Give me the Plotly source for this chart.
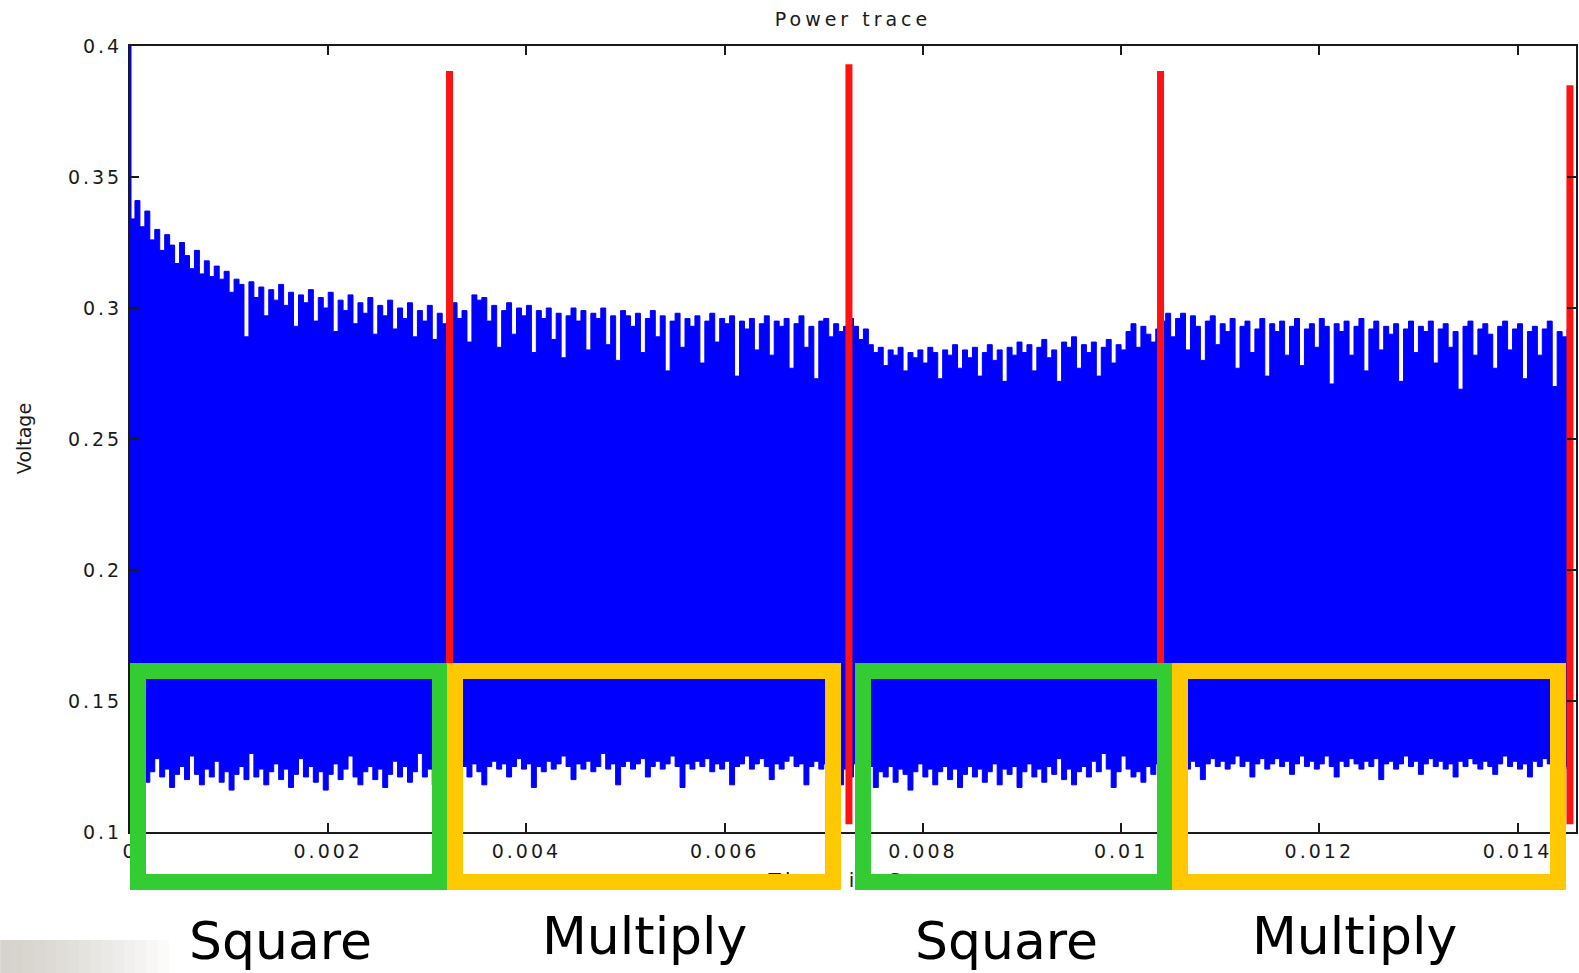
import numpy as np
import plotly.graph_objects as go

# ---------------- data ----------------
SAMPLE_DT = 0.00005  # seconds between envelope samples

# upper envelope of the power trace (V)
upper_v = [
    0.334, 0.341, 0.331, 0.337, 0.326, 0.330, 0.322, 0.328, 0.324, 0.317,
    0.325, 0.320, 0.315, 0.322, 0.313, 0.318, 0.312, 0.316, 0.311, 0.314,
    0.306, 0.311, 0.309, 0.289, 0.310, 0.304, 0.308, 0.297, 0.307, 0.303,
    0.309, 0.301, 0.306, 0.293, 0.305, 0.302, 0.307, 0.295, 0.304, 0.300,
    0.306, 0.291, 0.303, 0.299, 0.305, 0.294, 0.302, 0.298, 0.304, 0.290,
    0.301, 0.297, 0.303, 0.292, 0.300, 0.296, 0.302, 0.289, 0.299, 0.295,
    0.301, 0.288, 0.298, 0.294, 0.300, 0.302, 0.296, 0.299, 0.287, 0.305,
    0.303, 0.304, 0.295, 0.301, 0.285, 0.299, 0.302, 0.290, 0.300, 0.297,
    0.301, 0.283, 0.299, 0.296, 0.300, 0.288, 0.298, 0.281, 0.297, 0.300,
    0.295, 0.299, 0.284, 0.298, 0.296, 0.300, 0.286, 0.297, 0.280, 0.299,
    0.297, 0.293, 0.298, 0.283, 0.296, 0.299, 0.289, 0.297, 0.276, 0.295,
    0.298, 0.285, 0.296, 0.293, 0.297, 0.279, 0.295, 0.298, 0.287, 0.296,
    0.294, 0.297, 0.274, 0.295, 0.292, 0.296, 0.284, 0.294, 0.297, 0.282,
    0.295, 0.293, 0.296, 0.277, 0.294, 0.297, 0.285, 0.293, 0.273, 0.295,
    0.296, 0.289, 0.294, 0.291, 0.293, 0.296, 0.293, 0.288, 0.292, 0.286,
    0.283, 0.285, 0.278, 0.284, 0.282, 0.285, 0.276, 0.283, 0.281, 0.284,
    0.279, 0.285, 0.283, 0.273, 0.284, 0.282, 0.286, 0.277, 0.284, 0.281,
    0.285, 0.274, 0.283, 0.286, 0.280, 0.284, 0.272, 0.285, 0.282, 0.287,
    0.283, 0.286, 0.276, 0.285, 0.288, 0.281, 0.284, 0.272, 0.287, 0.285,
    0.289, 0.277, 0.286, 0.283, 0.287, 0.274, 0.285, 0.288, 0.279, 0.286,
    0.284, 0.291, 0.294, 0.285, 0.293, 0.290, 0.287, 0.292, 0.295, 0.298,
    0.289, 0.296, 0.298, 0.284, 0.297, 0.293, 0.280, 0.295, 0.297, 0.286,
    0.294, 0.291, 0.296, 0.277, 0.293, 0.295, 0.283, 0.292, 0.296, 0.274,
    0.294, 0.291, 0.295, 0.282, 0.293, 0.296, 0.278, 0.292, 0.294, 0.285,
    0.296, 0.293, 0.271, 0.294, 0.291, 0.295, 0.282, 0.293, 0.296, 0.276,
    0.292, 0.295, 0.284, 0.293, 0.290, 0.294, 0.272, 0.292, 0.295, 0.283,
    0.293, 0.291, 0.295, 0.279, 0.292, 0.294, 0.285, 0.291, 0.269, 0.293,
    0.295, 0.282, 0.292, 0.294, 0.290, 0.277, 0.293, 0.295, 0.284, 0.292,
    0.294, 0.273, 0.291, 0.293, 0.282, 0.292, 0.295, 0.270, 0.291, 0.289,
    0.292, 0.290,
]

# lower envelope of the power trace (V)
lower_v = [
    0.124, 0.121, 0.126, 0.119, 0.123, 0.128, 0.121, 0.124, 0.117, 0.122,
    0.125, 0.120, 0.129, 0.122, 0.118, 0.124, 0.121, 0.127, 0.119, 0.123,
    0.116, 0.122, 0.125, 0.120, 0.130, 0.121, 0.124, 0.118, 0.123, 0.126,
    0.120, 0.124, 0.117, 0.122, 0.128, 0.121, 0.125, 0.119, 0.123, 0.116,
    0.122, 0.126, 0.120, 0.124, 0.129, 0.121, 0.118, 0.123, 0.125, 0.120,
    0.124, 0.117, 0.122, 0.127, 0.121, 0.125, 0.119, 0.123, 0.130, 0.121,
    0.124, 0.118, 0.122, 0.126, 0.120, 0.124, 0.127, 0.125, 0.121, 0.126,
    0.123, 0.118, 0.125, 0.127, 0.124, 0.126, 0.121, 0.125, 0.128, 0.124,
    0.126, 0.117, 0.125, 0.123, 0.127, 0.124, 0.126, 0.129, 0.125, 0.120,
    0.126, 0.124, 0.127, 0.123, 0.125, 0.130, 0.124, 0.126, 0.118, 0.125,
    0.127, 0.124, 0.126, 0.128, 0.121, 0.125, 0.127, 0.124, 0.126, 0.129,
    0.125, 0.117, 0.126, 0.124, 0.127, 0.125, 0.128, 0.123, 0.126, 0.124,
    0.127, 0.118, 0.125, 0.126, 0.129, 0.124, 0.126, 0.128, 0.125, 0.120,
    0.126, 0.124, 0.127, 0.129, 0.125, 0.126, 0.118, 0.125, 0.127, 0.124,
    0.126, 0.125, 0.120, 0.118, 0.124, 0.121, 0.126, 0.119, 0.123, 0.125,
    0.117, 0.123, 0.121, 0.125, 0.119, 0.124, 0.122, 0.116, 0.123, 0.126,
    0.121, 0.124, 0.118, 0.123, 0.125, 0.120, 0.124, 0.117, 0.122, 0.125,
    0.121, 0.124, 0.119, 0.123, 0.126, 0.118, 0.124, 0.122, 0.125, 0.117,
    0.123, 0.126, 0.121, 0.124, 0.119, 0.125, 0.122, 0.128, 0.120, 0.124,
    0.118, 0.123, 0.125, 0.121, 0.127, 0.123, 0.130, 0.124, 0.117, 0.123,
    0.129, 0.124, 0.121, 0.123, 0.119, 0.125, 0.122, 0.126, 0.124, 0.127,
    0.125, 0.128, 0.126, 0.124, 0.127, 0.125, 0.120, 0.126, 0.128, 0.125,
    0.127, 0.124, 0.126, 0.129, 0.125, 0.127, 0.121, 0.126, 0.128, 0.124,
    0.126, 0.128, 0.125, 0.127, 0.122, 0.126, 0.129, 0.125, 0.127, 0.124,
    0.126, 0.129, 0.125, 0.121, 0.127, 0.125, 0.128, 0.126, 0.124, 0.127,
    0.125, 0.128, 0.120, 0.126, 0.127, 0.124, 0.126, 0.129, 0.125, 0.127,
    0.122, 0.126, 0.128, 0.125, 0.127, 0.124, 0.126, 0.121, 0.127, 0.125,
    0.128, 0.126, 0.124, 0.127, 0.125, 0.122, 0.126, 0.129, 0.125, 0.127,
    0.124, 0.126, 0.121, 0.127, 0.125, 0.128, 0.126, 0.123, 0.127, 0.125,
    0.124, 0.126,
]

# first sample spike (blue)
start_spike_x = [0.0]
start_spike_top = [0.4]
start_spike_bottom = [0.125]

# red spikes marking operation boundaries
red_x = [0.003224, 0.007254, 0.010398, 0.014529]
red_top = [0.3905, 0.3930, 0.3905, 0.3850]
red_bottom = [0.1030, 0.1030, 0.1030, 0.1030]

x_ticks = [0.0, 0.002, 0.004, 0.006, 0.008, 0.010, 0.012, 0.014]
x_tick_labels = ["0", "0.002", "0.004", "0.006", "0.008", "0.01", "0.012", "0.014"]
y_ticks = [0.1, 0.15, 0.2, 0.25, 0.3, 0.35, 0.4]
y_tick_labels = ["0.1", "0.15", "0.2", "0.25", "0.3", "0.35", "0.4"]

segment_labels = ["Square", "Multiply", "Square", "Multiply"]

# ---------------- layout constants (pixels) ----------------
W, H = 1579, 973
PL, PR, PT, PB = 130, 1578, 46, 832

def paper_x(px):
    return (px - PL) / (PR - PL)

def paper_y(py):
    return (PB - py) / (PB - PT)

BLUE = "#0000FF"
RED = "#FF1212"
GREEN = "#33CC33"
YELLOW = "#FFC800"
AXIS = "#1a1a1a"

t = np.arange(len(upper_v)) * SAMPLE_DT

fig = go.Figure()
fig.add_trace(go.Scatter(
    x=t, y=lower_v, mode="lines",
    line=dict(color=BLUE, width=1, shape="hv"),
    hoverinfo="skip", showlegend=False))
fig.add_trace(go.Scatter(
    x=t, y=upper_v, mode="lines",
    line=dict(color=BLUE, width=1, shape="hv"),
    fill="tonexty", fillcolor=BLUE,
    hoverinfo="skip", showlegend=False))

sx, sy = [], []
for x0, yb, yt in zip(start_spike_x, start_spike_bottom, start_spike_top):
    sx += [x0, x0, None]
    sy += [yb, yt, None]
fig.add_trace(go.Scatter(x=sx, y=sy, mode="lines",
                         line=dict(color=BLUE, width=3),
                         hoverinfo="skip", showlegend=False))

rx, ry = [], []
for x0, yb, yt in zip(red_x, red_bottom, red_top):
    rx += [x0, x0, None]
    ry += [yb, yt, None]
fig.add_trace(go.Scatter(x=rx, y=ry, mode="lines",
                         line=dict(color=RED, width=7),
                         hoverinfo="skip", showlegend=False))

annotations = []
# x-axis title (drawn first so that the boxes cover it as in the original)
annotations.append(dict(
    text="Time in Sec", xref="paper", yref="paper",
    x=0.5, y=paper_y(880), xanchor="center", yanchor="middle",
    showarrow=False, font=dict(family="DejaVu Sans", size=20, color=AXIS)))
annotations.append(dict(
    text="Voltage", xref="paper", yref="paper",
    x=paper_x(24), y=0.5, xanchor="center", yanchor="middle",
    textangle=-90, showarrow=False,
    font=dict(family="DejaVu Sans", size=19, color=AXIS)))

BOX_TOP, BOX_BOTTOM, BW = 663, 890, 16
boxes = [(130, 448, GREEN), (448, 842, YELLOW), (856, 1174, GREEN), (1174, 1568, YELLOW)]
for l, r, c in boxes:
    annotations.append(dict(
        text=" ", xref="paper", yref="paper",
        x=paper_x((l + r) / 2), y=paper_y((BOX_TOP + BOX_BOTTOM) / 2),
        xanchor="center", yanchor="middle", showarrow=False,
        width=(r - l) - 2 * BW, height=(BOX_BOTTOM - BOX_TOP) - 2 * BW,
        bordercolor=c, borderwidth=BW, borderpad=0,
        font=dict(size=1)))

label_pos = [(281, 941), (645, 936), (1008, 941), (1356, 936)]
for txt, (px, py) in zip(segment_labels, label_pos):
    annotations.append(dict(
        text=txt, xref="paper", yref="paper",
        x=paper_x(px), y=paper_y(py), xanchor="center", yanchor="middle",
        showarrow=False, font=dict(family="DejaVu Sans", size=52, color="black")))

# grey fade in the bottom-left corner of the slide
shapes = []
n_strips = 16
for i in range(n_strips):
    f = (i / (n_strips - 1)) ** 1.3
    col = "rgb(%d,%d,%d)" % (214 + (255 - 214) * f, 211 + (255 - 211) * f, 204 + (255 - 204) * f)
    x0 = i * 180 / n_strips
    x1 = (i + 1) * 180 / n_strips + 1
    shapes.append(dict(type="rect", xref="paper", yref="paper",
                       x0=paper_x(x0), x1=paper_x(x1), y0=paper_y(973), y1=paper_y(940),
                       fillcolor=col, line=dict(width=0), layer="below"))

axis_common = dict(
    showline=True, linecolor=AXIS, linewidth=2, mirror="ticks",
    ticks="inside", ticklen=9, tickwidth=1.5, tickcolor=AXIS,
    showgrid=False, zeroline=False,
    tickfont=dict(family="DejaVu Sans", size=19, color=AXIS),
)

fig.update_layout(
    width=W, height=H, autosize=False,
    margin=dict(l=PL, r=W - PR, t=PT, b=H - PB, pad=0),
    paper_bgcolor="white", plot_bgcolor="white",
    showlegend=False,
    title=dict(text="Power trace", x=0.5, xref="paper", xanchor="center",
               y=1 - 19 / H, yref="container", yanchor="middle",
               font=dict(family="DejaVu Sans", size=19, color=AXIS)),
    xaxis=dict(range=[0, 0.01459], tickvals=x_ticks, ticktext=x_tick_labels,
               ticklabelstandoff=1, **axis_common),
    yaxis=dict(range=[0.1, 0.4], tickvals=y_ticks, ticktext=y_tick_labels,
               ticklabelstandoff=2, **axis_common),
    annotations=annotations,
    shapes=shapes,
)

css = ("html,body{margin:0;padding:0;overflow:hidden;}"
       ".xtick text,.ytick text{letter-spacing:3px;}"
       ".gtitle{letter-spacing:4px;}"
       ".annotation[data-index='0'] text{letter-spacing:5px;}")
post = "var s=document.createElement('style');s.innerHTML=\"%s\";document.head.appendChild(s);" % css

fig.write_html("out.html", post_script=post, config={"displayModeBar": False})
